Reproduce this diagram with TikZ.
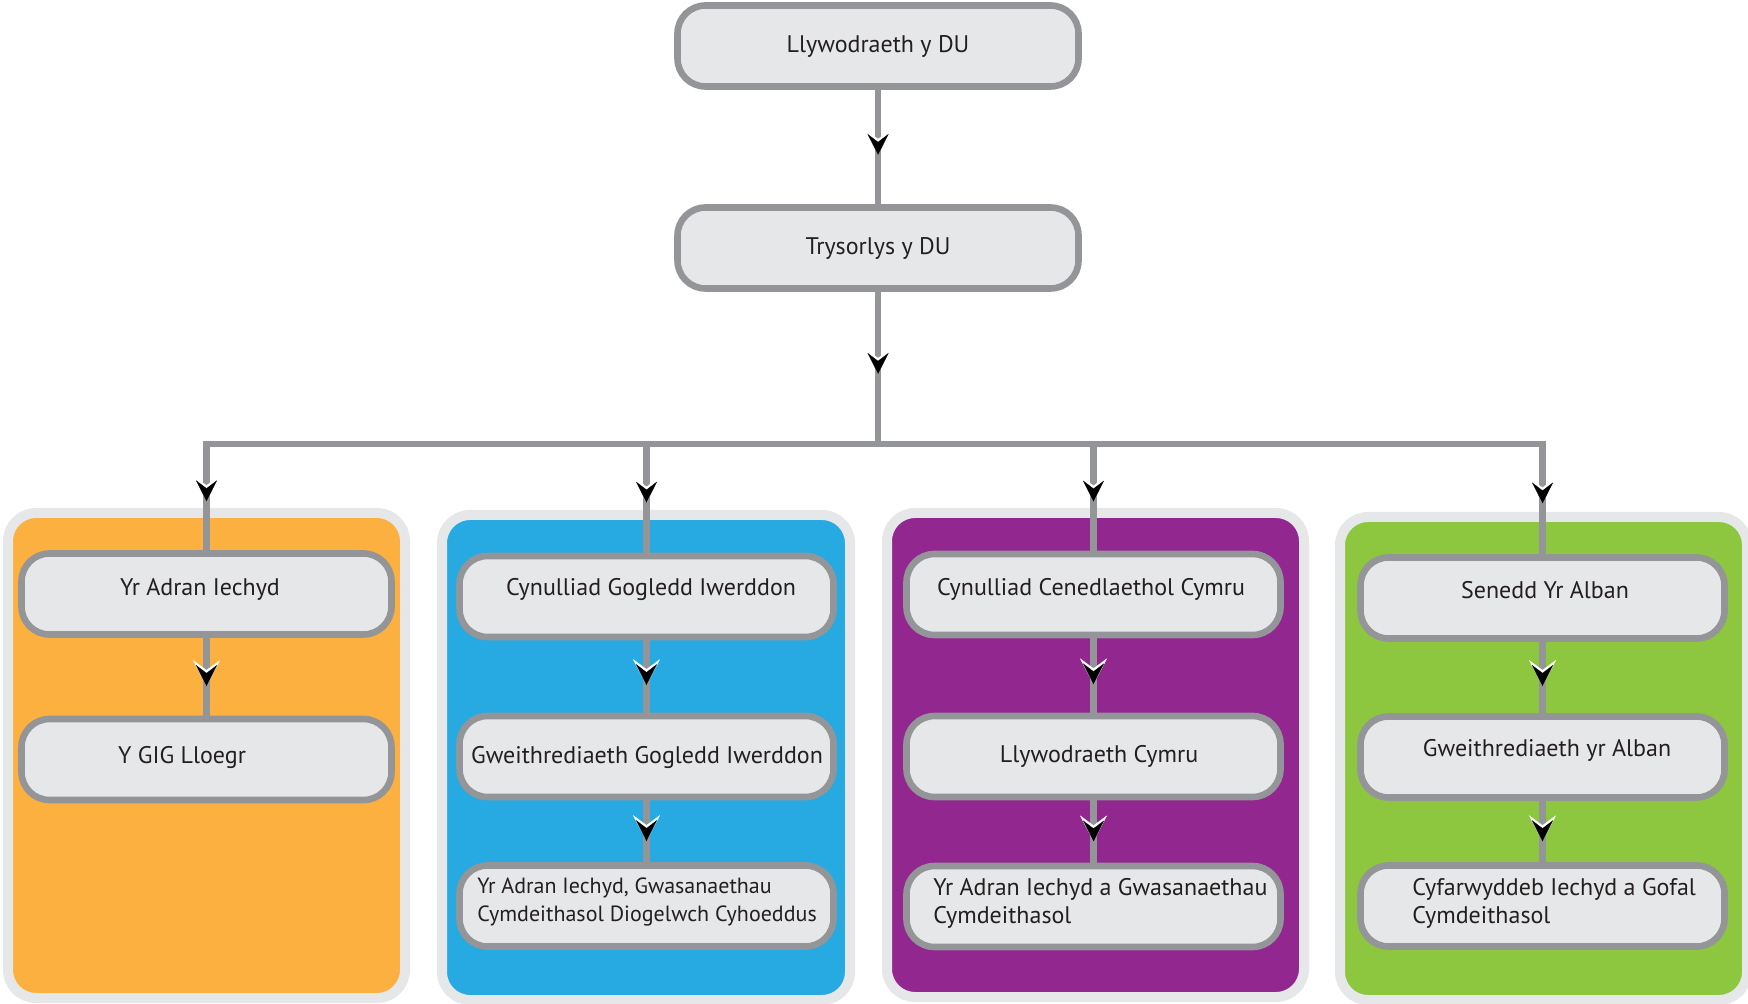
\documentclass[tikz,border=0pt]{standalone}
\usepackage{fontspec}
\setmainfont{PT Sans}
\usetikzlibrary{arrows.meta,decorations.markings,calc}
\definecolor{lineg}{HTML}{939598}
\definecolor{boxf}{HTML}{E6E7E8}
\definecolor{panb}{HTML}{E6E7E8}
\definecolor{porange}{HTML}{FBB040}
\definecolor{pblue}{HTML}{27AAE1}
\definecolor{ppurple}{HTML}{92278F}
\definecolor{pgreen}{HTML}{8DC63F}
\definecolor{txtc}{HTML}{231F20}
\pgfdeclarelayer{back}
\pgfdeclarelayer{mid}
\pgfsetlayers{back,mid,main}
\begin{document}
\begin{tikzpicture}[x=0.5pt,y=-0.5pt,
  box/.style={draw=lineg, fill=boxf, line width=3.3pt, rounded corners=14pt, inner sep=0pt,
    minimum height=40.5pt, text=txtc, font=\fontsize{12}{14}\selectfont},
  topbox/.style={box, minimum width=200.5pt},
  panel/.style={draw=panb, line width=5pt, rounded corners=14pt, inner sep=0pt},
  txt/.style={inner sep=0pt, text=txtc, font=\fontsize{12}{14}\selectfont},
  conn/.style={draw=lineg, line width=3.2pt},
  midarr/.style={postaction={decorate}, decoration={markings, mark=at position #1 with {%
      \arrow[white]{Stealth[length=13pt,width=13.5pt,inset=5pt,line width=0.1pt]}%
      \arrow[black]{Stealth[length=10.5pt,width=10.5pt,inset=4pt,line width=0.1pt]}}}}
]
\useasboundingbox (0,0) rectangle (1748,1004);

% panels
\begin{pgfonlayer}{back}
\node[panel, fill=porange, minimum width=198.5pt, minimum height=242.5pt] (po) at (206.5,755.5) {};
\node[panel, fill=pblue, minimum width=204pt, minimum height=242.5pt] (pb) at (646,757.5) {};
\node[panel, fill=ppurple, minimum width=208.5pt, minimum height=242pt] (pp) at (1095.5,755) {};
\node[panel, fill=pgreen, minimum width=203.5pt, minimum height=241.5pt] (pg) at (1543.5,758.5) {};
\end{pgfonlayer}

% top boxes
\node[topbox] (t1) at (878,46) {Llywodraeth y DU};
\node[topbox] (t2) at (878,248) {Trysorlys y DU};

% column boxes
\node[box, minimum width=185pt] (o1) at (206.5,594) {};
\node[box, minimum width=185pt] (o2) at (206.5,759.5) {};

\node[box, minimum width=187pt] (b1) at (646.5,596.5) {};
\node[box, minimum width=187pt] (b2) at (646.5,756.5) {};
\node[box, minimum width=187pt] (b3) at (646.5,906) {};

\node[box, minimum width=187pt] (u1) at (1093.5,594.5) {};
\node[box, minimum width=187pt] (u2) at (1093.5,756.5) {};
\node[box, minimum width=187pt] (u3) at (1093.5,906.5) {};

\node[box, minimum width=182pt] (g1) at (1542.5,598) {};
\node[box, minimum width=182pt] (g2) at (1542.5,757) {};
\node[box, minimum width=182pt] (g3) at (1542.5,906) {};

% connectors
\coordinate (j0) at (878,444);
\coordinate (j1) at (o1 |- j0);
\coordinate (j2) at (b1 |- j0);
\coordinate (j3) at (u1 |- j0);
\coordinate (j4) at (g1 |- j0);

\begin{pgfonlayer}{mid}
\draw[conn, midarr=0.57] (t1) -- (t2);
\draw[conn, midarr=0.54] (t2) -- (j0);
\draw[conn, line cap=rect] (j1) -- (j4);
\draw[conn, midarr=0.54] (j1) -- (o1.north);
\draw[conn, midarr=0.54] (j2) -- (b1.north);
\draw[conn, midarr=0.54] (j3) -- (u1.north);
\draw[conn, midarr=0.54] (j4) -- (g1.north);

\draw[conn, midarr=0.62] (o1) -- (o2);
\draw[conn, midarr=0.62] (b1) -- (b2);
\draw[conn, midarr=0.66] (b2) -- (b3);
\draw[conn, midarr=0.62] (u1) -- (u2);
\draw[conn, midarr=0.66] (u2) -- (u3);
\draw[conn, midarr=0.62] (g1) -- (g2);
\draw[conn, midarr=0.66] (g2) -- (g3);
\end{pgfonlayer}

% labels
\node[txt] (lo1) at (200,589) {Yr Adran Iechyd};
\node[txt] (lo2) at (182,757) {Y GIG Lloegr};

\node[txt] (lb1) at (651,589) {Cynulliad Gogledd Iwerddon};
\node[txt] (lb2) at (647,757) {Gweithrediaeth Gogledd Iwerddon};
\node[txt, font=\fontsize{11}{14}\selectfont, anchor=west, align=left] (lb3) at (477,902) {Yr Adran Iechyd, Gwasanaethau\\Cymdeithasol Diogelwch Cyhoeddus};

\node[txt] (lu1) at (1091,589) {Cynulliad Cenedlaethol Cymru};
\node[txt] (lu2) at (1099,756) {Llywodraeth Cymru};
\node[txt, anchor=west, align=left] (lu3) at (933,903) {Yr Adran Iechyd a Gwasanaethau\\Cymdeithasol};

\node[txt] (lg1) at (1545,590) {Senedd Yr Alban};
\node[txt] (lg2) at (1547,750) {Gweithrediaeth yr Alban};
\node[txt, anchor=west, align=left] (lg3) at (1412,903) {Cyfarwyddeb Iechyd a Gofal\\Cymdeithasol};
\end{tikzpicture}
\end{document}
